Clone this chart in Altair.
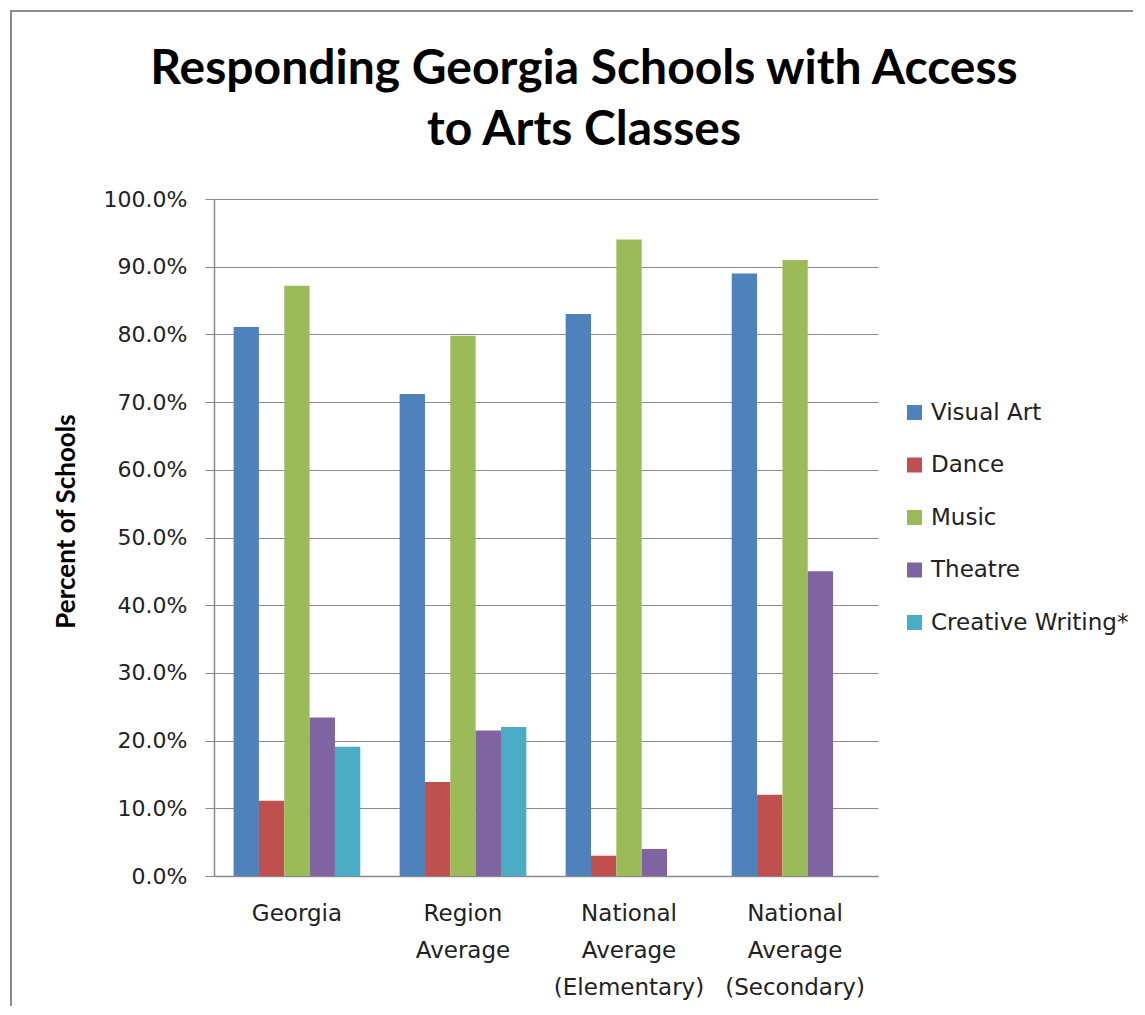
import altair as alt
import pandas as pd

groups = ["Georgia", "Region Average", "National Average (Elementary)", "National Average (Secondary)"]
arts = ["Visual Art", "Dance", "Music", "Theatre", "Creative Writing*"]
visual_art = [81.1, 71.2, 83.0, 89.0]
dance = [11.1, 13.9, 3.0, 12.0]
music = [87.2, 79.8, 94.0, 91.0]
theatre = [23.4, 21.5, 4.0, 45.0]
creative_writing = [19.1, 22.0, None, None]
colors = ["#4F81BD", "#C0504D", "#9BBB59", "#8064A2", "#4BACC6"]
y_ticks = [0.0, 0.1, 0.2, 0.3, 0.4, 0.5, 0.6, 0.7, 0.8, 0.9, 1.0]
title_lines = ["Responding Georgia Schools with Access", "to Arts Classes"]

series = [visual_art, dance, music, theatre, creative_writing]
rows = []
for art, vals in zip(arts, series):
    for g, v in zip(groups, vals):
        if v is not None:
            rows.append({"group": g, "art": art, "value": v / 100.0})
df = pd.DataFrame(rows)

LABEL_FONT = "DejaVu Sans"
GRID = "#8a8a8a"

bars = alt.Chart(df).mark_bar().encode(
    x=alt.X(
        "group:N",
        sort=groups,
        scale=alt.Scale(paddingInner=0.237, paddingOuter=0.118),
        axis=alt.Axis(
            title=None,
            labelExpr="split(datum.label, ' ')",
            labelAngle=0,
            labelFont=LABEL_FONT,
            labelFontSize=23,
            labelColor="#222222",
            labelLineHeight=37,
            labelPadding=26,
            labelBaseline="top",
            ticks=False,
            domainColor=GRID,
            domainWidth=1.5,
            grid=False,
        ),
    ),
    xOffset=alt.XOffset("art:N", sort=arts, scale=alt.Scale(paddingInner=0, paddingOuter=0)),
    y=alt.Y(
        "value:Q",
        scale=alt.Scale(domain=[0, 1], nice=False),
        axis=alt.Axis(
            title="Percent of Schools",
            titleFont="Lato",
            titleFontWeight="bold",
            titleFontSize=26,
            titleColor="#000000",
            titleAngle=-90,
            titleBaseline="alphabetic",
            titleAlign="center",
            titleX=-140,
            titleY=322,
            values=y_ticks,
            format=".1%",
            labelFont=LABEL_FONT,
            labelFontSize=22,
            labelColor="#222222",
            labelPadding=18,
            tickSize=9,
            tickColor=GRID,
            domainColor=GRID,
            domainWidth=1.5,
            gridColor=GRID,
            gridWidth=1.2,
        ),
    ),
    color=alt.Color(
        "art:N",
        sort=arts,
        scale=alt.Scale(domain=arts, range=colors),
        legend=alt.Legend(
            title=None,
            orient="none",
            legendX=689,
            legendY=202,
            symbolType="square",
            symbolSize=225,
            symbolStrokeWidth=0,
            labelFont=LABEL_FONT,
            labelFontSize=23,
            labelColor="#222222",
            labelOffset=5,
            labelLimit=0,
            rowPadding=28.5,
            padding=0,
        ),
    ),
)

frame = alt.Chart(pd.DataFrame({"k": [0]})).mark_rect(
    fillOpacity=0, stroke="#8c8c8c", strokeWidth=2
).encode(
    x=alt.value(-203), x2=alt.value(1300), y=alt.value(-188), y2=alt.value(1200)
)

title = alt.Chart(pd.DataFrame({"k": [0]})).mark_text(
    font="Lato",
    fontWeight="bold",
    fontSize=48,
    lineHeight=61,
    color="#000000",
    align="center",
    baseline="alphabetic",
).encode(
    x=alt.value(370), y=alt.value(-115), text=alt.value(title_lines)
)

chart = alt.layer(frame, title, bars).properties(
    width=664,
    height=677,
    autosize=alt.AutoSizeParams(type="none"),
    padding={"left": 206, "top": 191, "right": 255, "bottom": 130},
).configure_view(strokeWidth=0)

chart.save("out.html", embed_options={"renderer": "svg", "actions": False})
